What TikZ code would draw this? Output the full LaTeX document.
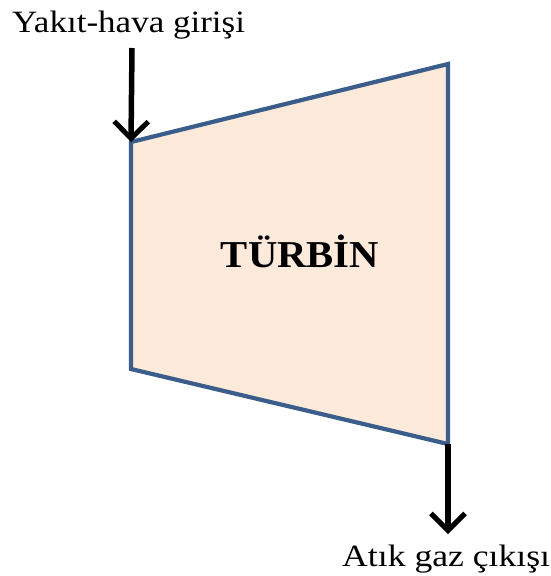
\documentclass[tikz,border=0pt]{standalone}
\usepackage{fontspec}
\setmainfont{Liberation Serif}
\usetikzlibrary{arrows.meta}
\definecolor{edge}{HTML}{3A5D8C}
\definecolor{peach}{HTML}{FDEADA}
\tikzset{
  flow/.style={line width=5.5pt, draw=black, -{Straight Barb[length=17pt,width=34pt,line width=5pt]}},
  lbl/.style={inner sep=0pt, font=\fontsize{31}{31}\selectfont},
}
\begin{document}
\begin{tikzpicture}[x=1pt,y=-1pt]
\useasboundingbox (0,0) rectangle (551,576);
\coordinate (tl) at (131,142);
\coordinate (tr) at (448,64);
\coordinate (br) at (448,444);
\coordinate (bl) at (131,369);
\coordinate (inS) at (132,48);
\coordinate (outE) at (448,534);
\filldraw[fill=peach, draw=edge, line width=4.2pt, line join=miter] (tl) -- (tr) -- (br) -- (bl) -- cycle;
\node[inner sep=0pt, anchor=base, font=\fontsize{38}{38}\selectfont\bfseries] (turb) at (300,267) {\scalebox{1.07}[1]{TÜRBİN}};
\node[lbl, anchor=base west] (inlbl) at (12,32) {\scalebox{1.13}[1]{Yakıt-hava girişi}};
\node[lbl, anchor=base west] (outlbl) at (342,566) {\scalebox{1.15}[1]{Atık gaz çıkışı}};
\draw[flow] (inS) -- (tl);
\draw[flow] (br) -- (outE);
\end{tikzpicture}
\end{document}
